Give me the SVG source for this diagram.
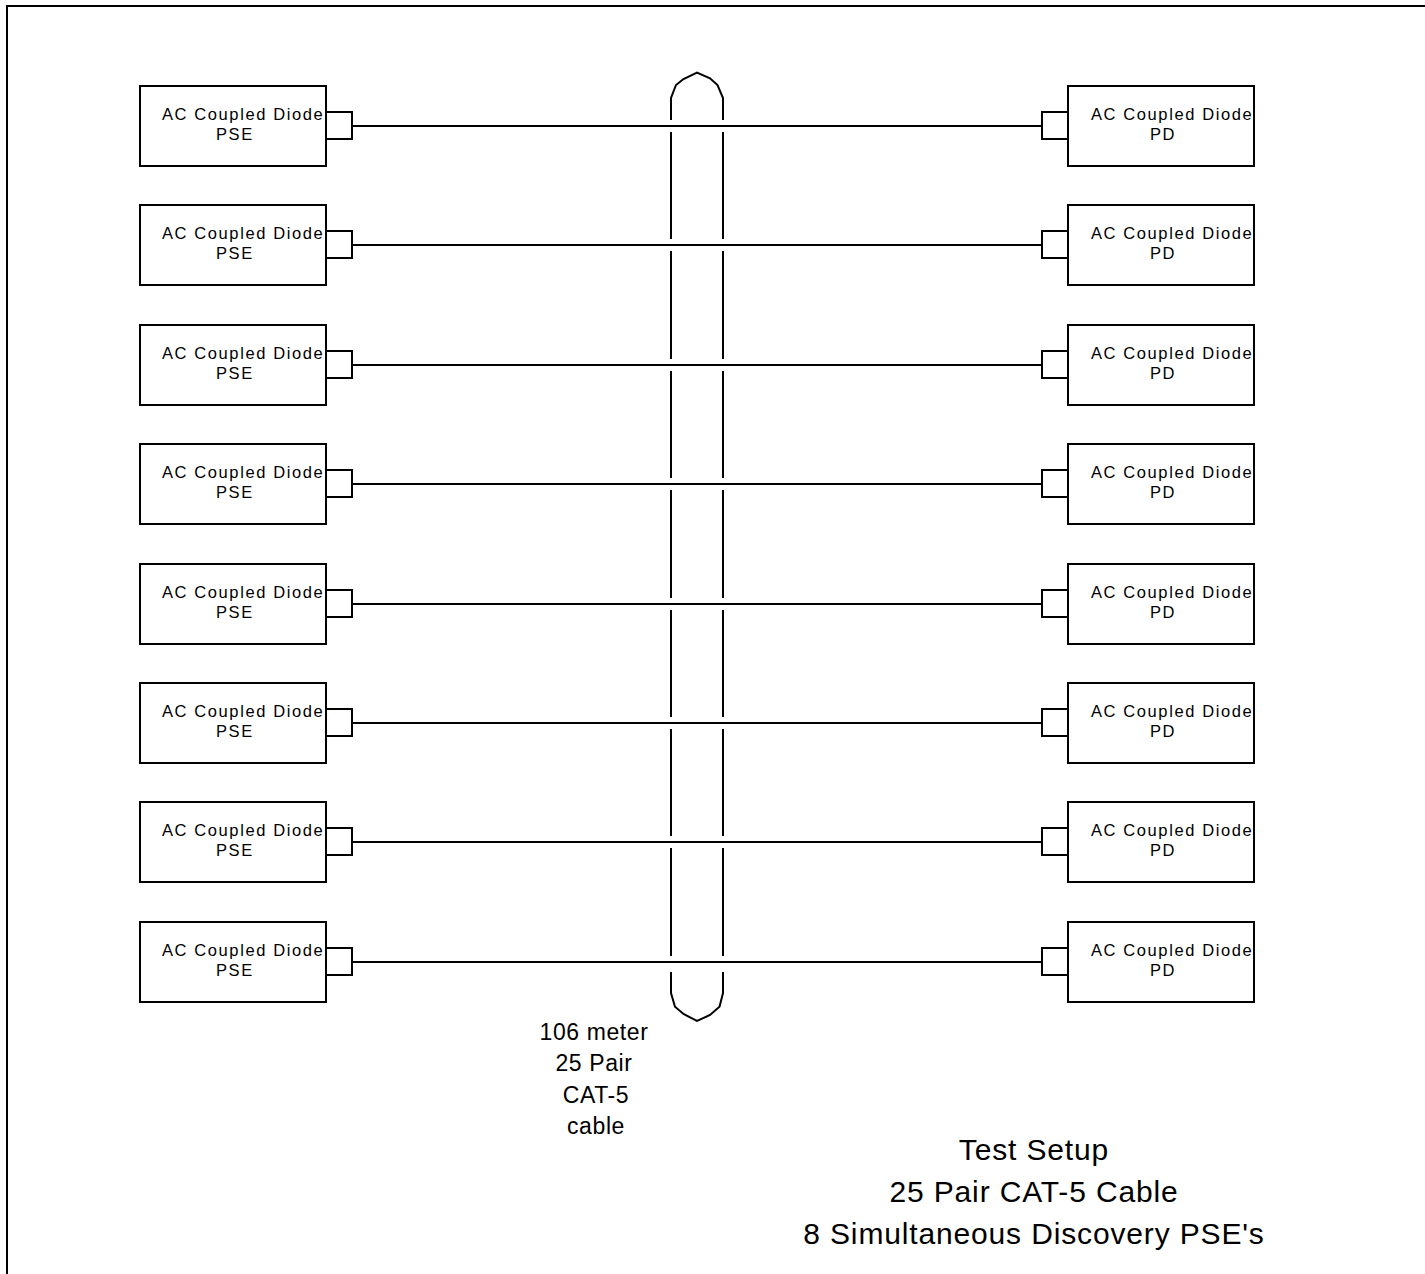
<svg xmlns="http://www.w3.org/2000/svg" width="1425" height="1274" viewBox="0 0 1425 1274">
<defs>
<style>
.box{fill:#fff;stroke:#000;stroke-width:2}
.port{fill:#fff;stroke:#000;stroke-width:2}
.wire{stroke:#000;stroke-width:2;fill:none}
.cable{stroke:#000;stroke-width:2;fill:none}
.nt{font-family:"Liberation Sans",Arial,sans-serif;font-size:16.5px;letter-spacing:1.6px;fill:#000}
.lbl{font-family:"Liberation Sans",Arial,sans-serif;font-size:23px;letter-spacing:0.6px;fill:#000;text-anchor:middle}
.ttl{font-family:"Liberation Sans",Arial,sans-serif;font-size:30px;letter-spacing:0.85px;fill:#000;text-anchor:middle}
</style>
<g id="pse-tpl">
<rect class="box" x="140" y="0" width="186" height="80"/>
<rect class="port" x="326" y="26" width="26" height="27"/>
<text class="nt" x="162" y="34">AC Coupled Diode</text>
<text class="nt" x="216" y="54">PSE</text>
</g>
<g id="pd-tpl">
<rect class="box" x="1068" y="0" width="186" height="80"/>
<rect class="port" x="1042" y="26" width="26" height="27"/>
<text class="nt" x="1091" y="34">AC Coupled Diode</text>
<text class="nt" x="1150" y="54">PD</text>
</g>
</defs>
<rect x="0" y="0" width="1425" height="1274" fill="#fff"/>
<path d="M7,1274 V6 H1425" fill="none" stroke="#000" stroke-width="2"/>

<g id="connectors">
<line class="wire" x1="352" y1="126" x2="1042" y2="126"/>
<line class="wire" x1="352" y1="245" x2="1042" y2="245"/>
<line class="wire" x1="352" y1="365" x2="1042" y2="365"/>
<line class="wire" x1="352" y1="484" x2="1042" y2="484"/>
<line class="wire" x1="352" y1="604" x2="1042" y2="604"/>
<line class="wire" x1="352" y1="723" x2="1042" y2="723"/>
<line class="wire" x1="352" y1="842" x2="1042" y2="842"/>
<line class="wire" x1="352" y1="962" x2="1042" y2="962"/>
</g>

<g id="cable">
<polyline class="cable" points="671,120 671,98 676,85 683.5,79 697,72.7 710,78.3 717.5,85 723,98 723,120"/>
<path class="cable" d="M671,132 V239 M671,251 V359 M671,371 V478 M671,490 V598 M671,610 V717 M671,729 V836 M671,848 V956
M723,132 V239 M723,251 V359 M723,371 V478 M723,490 V598 M723,610 V717 M723,729 V836 M723,848 V956"/>
<polyline class="cable" points="671,972 671,993 675,1006.7 683.5,1014 697,1021 710,1015 719.5,1006.7 723,993 723,972"/>
</g>

<g id="pse1"><use href="#pse-tpl" transform="translate(0,86)"/></g>
<g id="pse2"><use href="#pse-tpl" transform="translate(0,205)"/></g>
<g id="pse3"><use href="#pse-tpl" transform="translate(0,325)"/></g>
<g id="pse4"><use href="#pse-tpl" transform="translate(0,444)"/></g>
<g id="pse5"><use href="#pse-tpl" transform="translate(0,564)"/></g>
<g id="pse6"><use href="#pse-tpl" transform="translate(0,683)"/></g>
<g id="pse7"><use href="#pse-tpl" transform="translate(0,802)"/></g>
<g id="pse8"><use href="#pse-tpl" transform="translate(0,922)"/></g>

<g id="pd1"><use href="#pd-tpl" transform="translate(0,86)"/></g>
<g id="pd2"><use href="#pd-tpl" transform="translate(0,205)"/></g>
<g id="pd3"><use href="#pd-tpl" transform="translate(0,325)"/></g>
<g id="pd4"><use href="#pd-tpl" transform="translate(0,444)"/></g>
<g id="pd5"><use href="#pd-tpl" transform="translate(0,564)"/></g>
<g id="pd6"><use href="#pd-tpl" transform="translate(0,683)"/></g>
<g id="pd7"><use href="#pd-tpl" transform="translate(0,802)"/></g>
<g id="pd8"><use href="#pd-tpl" transform="translate(0,922)"/></g>

<g id="cable-label">
<text class="lbl" x="594" y="1040">106 meter</text>
<text class="lbl" x="594" y="1071">25 Pair</text>
<text class="lbl" x="596" y="1103">CAT-5</text>
<text class="lbl" x="596" y="1134">cable</text>
</g>

<g id="title">
<text class="ttl" x="1034" y="1160">Test Setup</text>
<text class="ttl" x="1034" y="1202">25 Pair CAT-5 Cable</text>
<text class="ttl" x="1034" y="1244">8 Simultaneous Discovery PSE's</text>
</g>
</svg>
